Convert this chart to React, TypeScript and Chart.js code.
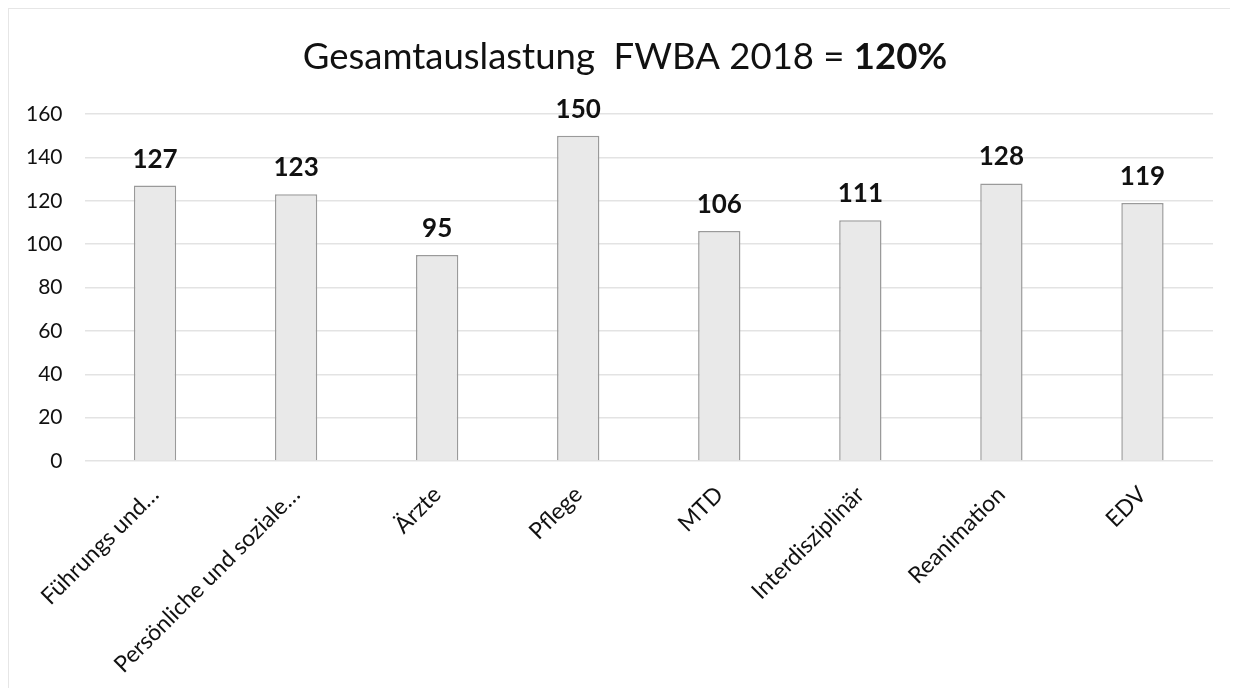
import React, { useEffect, useRef } from "react";
import { Chart, registerables } from "chart.js";

Chart.register(...registerables);

const categories = [
  "Führungs und…",
  "Persönliche und soziale…",
  "Ärzte",
  "Pflege",
  "MTD",
  "Interdisziplinär",
  "Reanimation",
  "EDV",
];
const values = [127, 123, 95, 150, 106, 111, 128, 119];
const yMax = 160;
const yStep = 20;
const titleMain = "Gesamtauslastung  FWBA 2018 = ";
const titleBold = "120%";

const FONT = "Lato, 'Open Sans', sans-serif";

const titlePlugin = {
  id: "mixedTitle",
  afterDraw(chart: any) {
    const ctx = chart.ctx;
    ctx.save();
    ctx.fillStyle = "#111";
    ctx.textBaseline = "alphabetic";
    const normal = `400 36.5px ${FONT}`;
    const bold = `700 36.5px ${FONT}`;
    ctx.font = normal;
    const w1 = ctx.measureText(titleMain).width;
    ctx.font = bold;
    const w2 = ctx.measureText(titleBold).width;
    const x0 = 616 - (w1 + w2) / 2;
    const y = 60;
    ctx.font = normal;
    ctx.textAlign = "left";
    ctx.fillText(titleMain, x0, y);
    ctx.font = bold;
    ctx.fillText(titleBold, x0 + w1, y);
    ctx.restore();
  },
};

const labelPlugin = {
  id: "barValues",
  afterDatasetsDraw(chart: any) {
    const ctx = chart.ctx;
    const meta = chart.getDatasetMeta(0);
    ctx.save();
    ctx.font = `700 26px ${FONT}`;
    ctx.fillStyle = "#111";
    ctx.textAlign = "center";
    ctx.textBaseline = "alphabetic";
    meta.data.forEach((bar: any, i: number) => {
      ctx.fillText(String(chart.data.datasets[0].data[i]), bar.x, bar.y - 18);
    });
    ctx.restore();
  },
};

export default function App() {
  const ref = useRef<HTMLCanvasElement>(null);
  useEffect(() => {
    if (!ref.current) return;
    const chart = new Chart(ref.current, {
      type: "bar",
      data: {
        labels: categories,
        datasets: [
          {
            data: values,
            backgroundColor: "#e9e9e9",
            borderColor: "#9a9a9a",
            borderWidth: 1.5,
            barPercentage: 0.3,
            categoryPercentage: 1,
          },
        ],
      },
      options: {
        responsive: false,
        animation: false,
        layout: { padding: { top: 105, right: 17, left: 0, bottom: 0 } },
        plugins: {
          legend: { display: false },
          title: { display: false },
          tooltip: { enabled: false },
        },
        scales: {
          x: {
            grid: { display: false },
            border: { display: false },
            ticks: {
              color: "#111",
              font: { family: FONT, size: 23 },
              maxRotation: 45,
              minRotation: 45,
              labelOffset: 0,
              padding: 12,
              autoSkip: false,
            },
            afterFit(scale: any) {
              scale.height = 226;
            },
          },
          y: {
            min: 0,
            max: yMax,
            border: { display: false },
            grid: { color: "#e3e3e3", lineWidth: 1.5, drawTicks: false },
            ticks: {
              stepSize: yStep,
              color: "#111",
              font: { family: FONT, size: 21 },
              padding: 22,
            },
            afterFit(scale: any) {
              scale.width = 75.5;
            },
          },
        },
      },
      plugins: [titlePlugin, labelPlugin],
    });
    return () => chart.destroy();
  }, []);
  return (
    <div
      style={{
        position: "relative",
        width: 1222,
        height: 679,
        borderTop: "1px solid #e6e6e6",
        borderLeft: "1px solid #e6e6e6",
        background: "#fff",
      }}
    >
      <canvas ref={ref} width={1221} height={678} style={{ display: "block" }} />
    </div>
  );
}
